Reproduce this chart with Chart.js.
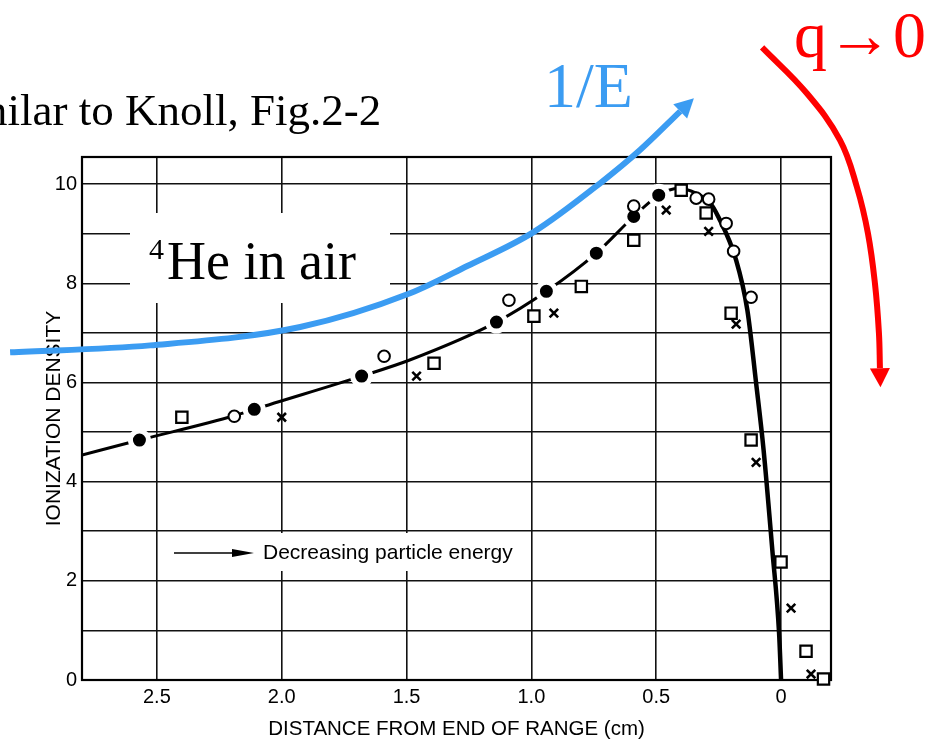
<!DOCTYPE html>
<html>
<head>
<meta charset="utf-8">
<script src="https://cdn.jsdelivr.net/npm/chart.js@4.4.1/dist/chart.umd.min.js"></script>
<style>
  html, body { margin: 0; padding: 0; background: #fff; }
  #wrap { width: 939px; height: 742px; position: relative; }
</style>
</head>
<body>
<div id="wrap"><canvas id="chart" width="939" height="742"></canvas></div>
<script>
// x = distance from end of range (cm), y = ionization density
const xTickValues = [2.5, 2.0, 1.5, 1.0, 0.5, 0];
const xTickLabels = ['2.5', '2.0', '1.5', '1.0', '0.5', '0'];
const yTickValues = [0, 1, 2, 3, 4, 5, 6, 7, 8, 9, 10];
const yTickLabels = ['0', '', '2', '', '4', '', '6', '', '8', '', '10'];

// smooth Bragg curve drawn through the data
const curveX = [2.80, 2.57, 2.19, 2.11, 1.68, 1.49, 1.14, 0.94, 0.74, 0.59, 0.49, 0.41, 0.34, 0.29, 0.25, 0.18, 0.135, 0.10, 0.07, 0.035, 0.008, 0];
const curveY = [4.54, 4.84, 5.33, 5.46, 6.13, 6.45, 7.22, 7.84, 8.61, 9.35, 9.78, 9.92, 9.82, 9.66, 9.33, 8.47, 7.46, 5.99, 4.64, 2.62, 0.95, 0];

// measured points, one list per marker type
const filledX = [2.57, 2.11, 1.68, 1.14, 0.94, 0.74, 0.59, 0.49];
const filledY = [4.84, 5.46, 6.13, 7.22, 7.84, 8.61, 9.35, 9.78];
const openX = [2.19, 1.59, 1.09, 0.59, 0.34, 0.29, 0.22, 0.19, 0.12];
const openY = [5.32, 6.53, 7.66, 9.56, 9.72, 9.70, 9.21, 8.65, 7.72];
const squareX = [2.40, 1.39, 0.99, 0.80, 0.59, 0.40, 0.30, 0.20, 0.12, 0.0, -0.10, -0.17];
const squareY = [5.30, 6.39, 7.34, 7.94, 8.87, 9.88, 9.42, 7.40, 4.84, 2.38, 0.58, 0.02];
const crossX = [2.0, 1.46, 0.91, 0.46, 0.29, 0.18, 0.10, -0.04, -0.12];
const crossY = [5.30, 6.13, 7.40, 9.48, 9.05, 7.18, 4.39, 1.45, 0.12];

// slide annotations (arrows), in the same data units
const invEX = [3.088, 2.527, 1.926, 1.486, 1.257, 0.993, 0.725, 0.565, 0.404];
const invEY = [6.61, 6.75, 7.12, 7.80, 8.35, 9.03, 10.02, 10.69, 11.47];
const qZeroX = [0.076, -0.104, -0.236, -0.304, -0.348, -0.376, -0.392, -0.396];
const qZeroY = [12.76, 11.83, 10.89, 9.94, 9.01, 8.00, 7.00, 6.29];

const BLUE = '#3b9cf2';
const RED = '#ff0000';
const SANS = "'Liberation Sans', Arial, sans-serif";
const SERIF = "'Liberation Serif', 'Times New Roman', serif";

const pts = (xs, ys) => xs.map((x, i) => ({ x: x, y: ys[i] }));

function drawArrowHead(ctx, el, prev, len, hw, color) {
  let dx = el.x - prev.x, dy = el.y - prev.y;
  const d = Math.hypot(dx, dy) || 1;
  dx /= d; dy /= d;
  ctx.fillStyle = color;
  ctx.beginPath();
  ctx.moveTo(el.x + dx * len, el.y + dy * len);
  ctx.lineTo(el.x - dy * hw, el.y + dx * hw);
  ctx.lineTo(el.x + dy * hw, el.y - dx * hw);
  ctx.closePath();
  ctx.fill();
}

const slideExtras = {
  id: 'slideExtras',
  beforeDatasetsDraw(chart) {
    const { ctx, chartArea: a } = chart;
    ctx.save();
    // plot frame
    ctx.strokeStyle = '#000';
    ctx.lineWidth = 2.2;
    ctx.strokeRect(a.left, a.top, a.right - a.left, a.bottom - a.top);

    // white label boxes that break the grid
    ctx.fillStyle = '#fff';
    ctx.fillRect(130, 213, 260, 90);
    ctx.fillRect(163, 533, 364, 38);

    // 4He in air
    ctx.fillStyle = '#000';
    ctx.textBaseline = 'alphabetic';
    ctx.font = '30px ' + SERIF;
    ctx.fillText('4', 149, 259);
    ctx.font = '54px ' + SERIF;
    ctx.fillText('He in air', 167, 279);

    // Decreasing particle energy
    ctx.strokeStyle = '#000';
    ctx.lineWidth = 1.5;
    ctx.beginPath();
    ctx.moveTo(174, 553);
    ctx.lineTo(240, 553);
    ctx.stroke();
    ctx.beginPath();
    ctx.moveTo(254, 553);
    ctx.lineTo(232, 549);
    ctx.lineTo(232, 557);
    ctx.closePath();
    ctx.fill();
    ctx.font = '21px ' + SANS;
    ctx.textBaseline = 'middle';
    ctx.fillText('Decreasing particle energy', 263, 553);
    ctx.restore();
  },
  afterDatasetsDraw(chart) {
    const { ctx } = chart;
    ctx.save();
    chart.data.datasets.forEach((ds, i) => {
      if (!ds.arrowColor) return;
      const els = chart.getDatasetMeta(i).data;
      const last = els[els.length - 1];
      const prev = (last.cp1x !== undefined && (last.cp1x !== last.x || last.cp1y !== last.y))
        ? { x: last.cp1x, y: last.cp1y } : els[els.length - 2];
      drawArrowHead(ctx, last, prev, 19, 10, ds.arrowColor);
    });
    ctx.restore();
  },
  afterDraw(chart) {
    const { ctx } = chart;
    ctx.save();
    ctx.textBaseline = 'alphabetic';
    ctx.fillStyle = '#000';
    ctx.font = '45px ' + SERIF;
    ctx.fillText('Similar to Knoll, Fig.2-2', -65, 125);
    ctx.fillStyle = BLUE;
    ctx.font = '64px ' + SERIF;
    ctx.fillText('1/E', 544, 107);
    ctx.fillStyle = RED;
    ctx.font = '66px ' + SERIF;
    ctx.fillText('q\u21920', 794, 57);
    ctx.restore();
  }
};

new Chart(document.getElementById('chart'), {
  type: 'scatter',
  data: {
    datasets: [
      {
        label: 'curve', data: pts(curveX, curveY), showLine: true, pointRadius: 0,
        borderColor: '#000', borderWidth: 3, cubicInterpolationMode: 'monotone', order: 6,
        segment: { borderWidth: c => (c.p0.parsed.x <= 0.3 ? 4.5 : 3) }
      },
      {
        label: 'filled', data: pts(filledX, filledY), pointStyle: 'circle', pointRadius: 9,
        pointBackgroundColor: '#000', pointBorderColor: '#fff', pointBorderWidth: 5, order: 5
      },
      {
        label: 'squares', data: pts(squareX, squareY), pointStyle: 'rect', pointRadius: 8,
        pointBackgroundColor: '#fff', pointBorderColor: '#000', pointBorderWidth: 2.2, order: 4, clip: false
      },
      {
        label: 'open', data: pts(openX, openY), pointStyle: 'circle', pointRadius: 5.8,
        pointBackgroundColor: '#fff', pointBorderColor: '#000', pointBorderWidth: 2, order: 3
      },
      {
        label: 'cross', data: pts(crossX, crossY), pointStyle: 'crossRot', pointRadius: 6,
        pointBorderColor: '#000', pointBorderWidth: 2.6, order: 2, clip: false
      },
      {
        label: '1/E', data: pts(invEX, invEY), showLine: true, pointRadius: 0, borderColor: BLUE,
        borderWidth: 6, cubicInterpolationMode: 'monotone', clip: false, order: 1, arrowColor: BLUE
      },
      {
        label: 'q to 0', data: pts(qZeroX, qZeroY), showLine: true, pointRadius: 0, borderColor: RED,
        borderWidth: 6, tension: 0.4, clip: false, order: 1, arrowColor: RED
      }
    ]
  },
  options: {
    responsive: false,
    animation: false,
    events: [],
    layout: { padding: { top: 157, right: 108, left: 0, bottom: 0 } },
    plugins: { legend: { display: false }, tooltip: { enabled: false } },
    scales: {
      x: {
        type: 'linear', reverse: true, min: -0.2, max: 2.8,
        afterBuildTicks: s => { s.ticks = xTickValues.map(v => ({ value: v })); },
        afterFit: s => { s.height = 62; },
        border: { display: false },
        grid: { color: '#111', lineWidth: 1.6, drawTicks: false },
        ticks: {
          padding: 5, color: '#000', font: { family: SANS, size: 20 },
          callback: v => xTickLabels[xTickValues.indexOf(v)] ?? ''
        },
        title: {
          display: true, text: 'DISTANCE FROM END OF RANGE (cm)', color: '#000',
          font: { family: SANS, size: 20.5 }, padding: { top: 0, bottom: 0 }
        }
      },
      y: {
        type: 'linear', min: 0, max: 10.55,
        afterBuildTicks: s => { s.ticks = yTickValues.map(v => ({ value: v })); },
        afterFit: s => { s.width = 82; },
        border: { display: false },
        grid: { color: '#111', lineWidth: 1.6, drawTicks: false },
        ticks: {
          padding: 5, color: '#000', font: { family: SANS, size: 20 },
          callback: v => yTickLabels[yTickValues.indexOf(v)] ?? ''
        },
        title: {
          display: true, text: 'IONIZATION DENSITY', color: '#000',
          font: { family: SANS, size: 21 }, padding: { top: 42, bottom: 0 }
        }
      }
    }
  },
  plugins: [slideExtras]
});
</script>
</body>
</html>
